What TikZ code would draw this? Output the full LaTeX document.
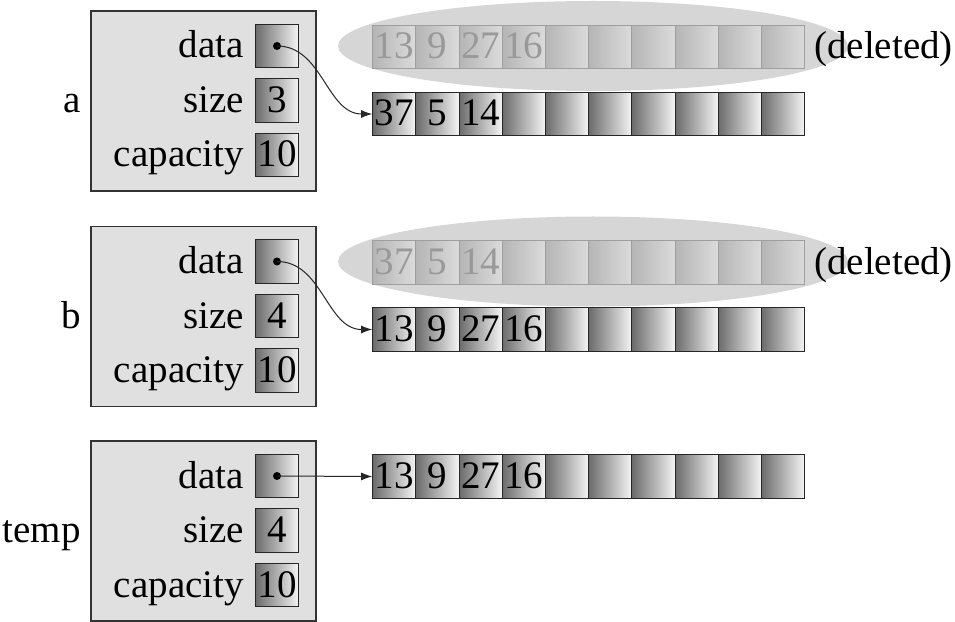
\documentclass[tikz,border=0pt]{standalone}
\usepackage{fontspec}
\setmainfont{Liberation Serif}
\usetikzlibrary{arrows.meta,shapes.geometric}
\tikzset{
  every node/.style={font=\fontsize{39bp}{45bp}\selectfont},
  varbox/.style={draw=black!80, fill=black!12, line width=1.2bp, minimum width=225bp, minimum height=180bp, inner sep=0pt},
  cell/.style={draw=black!85, line width=1bp, left color=black!58, right color=black!4, minimum width=43.2bp, minimum height=43.5bp, inner sep=0pt, text height=24bp, text depth=0pt},
  gonecell/.style={cell, draw=black!38, left color=black!29, right color=black!14, text=black!40},
  lbl/.style={inner sep=0pt, text height=24bp, text depth=0pt},
  blob/.style={ellipse, fill=black!16, minimum width=510bp, minimum height=90bp, inner sep=0pt},
  ptr/.style={-{Latex[length=11bp,width=8bp]}, line width=1bp, black!85},
  pdot/.style={circle, fill=black, inner sep=0pt, minimum size=8bp},
}
\begin{document}
\begin{tikzpicture}[x=1bp,y=-1bp]
\useasboundingbox (0,0) rectangle (955,622);

% ---------- variable a ----------
\node[varbox] (abox) at (203.5,101) {};
\node[lbl, anchor=east] (alab) at (81,101) {a};
\node[cell, minimum width=43.5bp] (ad) at (277,46) {};
\node[cell, minimum width=43.5bp] (as) at (277,100.5) {3};
\node[cell, minimum width=43.5bp] (ac) at (277,155) {10};
\node[lbl, anchor=east] (adt) at (244,46) {data};
\node[lbl, anchor=east] (ast) at (244,100.5) {size};
\node[lbl, anchor=east] (act) at (244,155) {capacity};
\node[pdot] (adot) at (ad.center) {};

\node[blob] (ablob) at (593,46) {};
\foreach \v [count=\i from 0] in {13,9,27,16,{},{},{},{},{},{}}
  \node[gonecell] (ao\i) at ({394.3+43.2*\i},47) {\v};
\node[lbl, anchor=west] (adel) at (814,47) {(deleted)};
\foreach \v [count=\i from 0] in {37,5,14,{},{},{},{},{},{},{}}
  \node[cell] (an\i) at ({394.3+43.2*\i},114) {\v};
\draw[ptr] (adot.center) to[out=0,in=180] (an0.west);

% ---------- variable b ----------
\node[varbox] (bbox) at (203.5,316.5) {};
\node[lbl, anchor=east] (blab) at (81,316) {b};
\node[cell, minimum width=43.5bp] (bd) at (277,261.5) {};
\node[cell, minimum width=43.5bp] (bs) at (277,316) {4};
\node[cell, minimum width=43.5bp] (bc) at (277,370.5) {10};
\node[lbl, anchor=east] (bdt) at (244,261.5) {data};
\node[lbl, anchor=east] (bst) at (244,316) {size};
\node[lbl, anchor=east] (bct) at (244,370.5) {capacity};
\node[pdot] (bdot) at (bd.center) {};

\node[blob] (bblob) at (593,261.5) {};
\foreach \v [count=\i from 0] in {37,5,14,{},{},{},{},{},{},{}}
  \node[gonecell] (bo\i) at ({394.3+43.2*\i},262.5) {\v};
\node[lbl, anchor=west] (bdel) at (814,262.5) {(deleted)};
\foreach \v [count=\i from 0] in {13,9,27,16,{},{},{},{},{},{}}
  \node[cell] (bn\i) at ({394.3+43.2*\i},329.5) {\v};
\draw[ptr] (bdot.center) to[out=0,in=180] (bn0.west);

% ---------- variable temp ----------
\node[varbox] (tbox) at (203.5,531) {};
\node[lbl, anchor=east] (tlab) at (81,530.5) {temp};
\node[cell, minimum width=43.5bp] (td) at (277,476) {};
\node[cell, minimum width=43.5bp] (ts) at (277,530.5) {4};
\node[cell, minimum width=43.5bp] (tc) at (277,585) {10};
\node[lbl, anchor=east] (tdt) at (244,476) {data};
\node[lbl, anchor=east] (tst) at (244,530.5) {size};
\node[lbl, anchor=east] (tct) at (244,585) {capacity};
\node[pdot] (tdot) at (td.center) {};

\foreach \v [count=\i from 0] in {13,9,27,16,{},{},{},{},{},{}}
  \node[cell] (tn\i) at ({394.3+43.2*\i},476.5) {\v};
\draw[ptr] (tdot.center) -- (tn0.west);
\end{tikzpicture}
\end{document}
